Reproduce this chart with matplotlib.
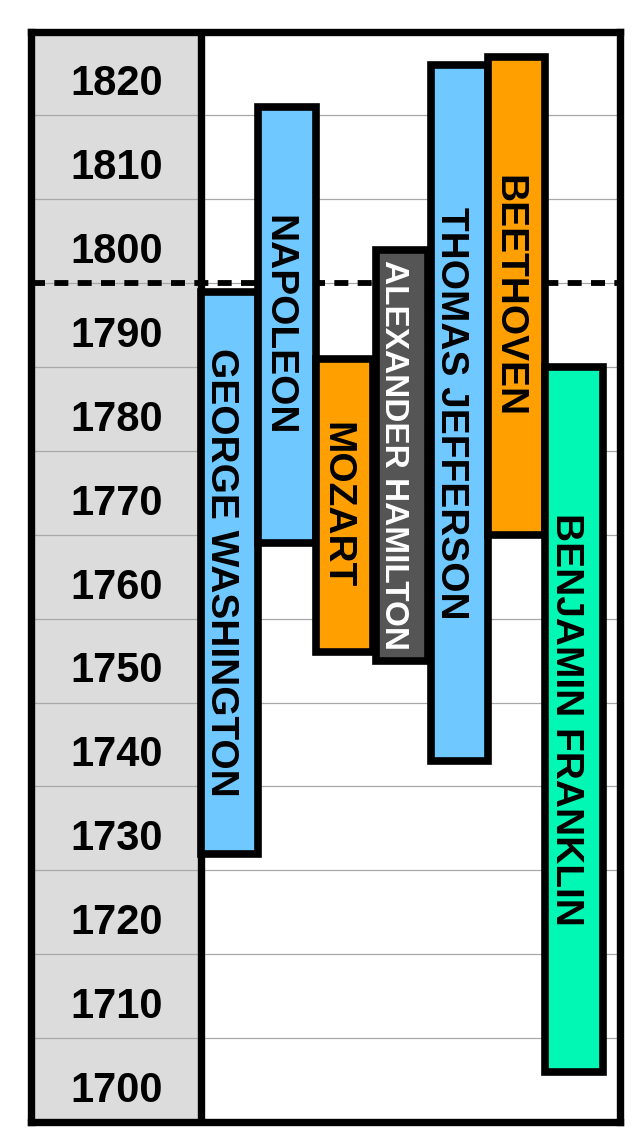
import matplotlib
matplotlib.use("Agg")
import matplotlib.pyplot as plt
from matplotlib.patches import Rectangle

plt.rcParams['font.family'] = ['Liberation Sans', 'DejaVu Sans']

# lifespans (born / died)
names = ["GEORGE WASHINGTON", "NAPOLEON", "MOZART", "ALEXANDER HAMILTON",
         "THOMAS JEFFERSON", "BEETHOVEN", "BENJAMIN FRANKLIN"]
born = [1732, 1769, 1756, 1755, 1743, 1770, 1706]
died = [1799, 1821, 1791, 1804, 1826, 1827, 1790]
fill_colors = ["#6FC8FF", "#6FC8FF", "#FFA000", "#555555",
               "#6FC8FF", "#FFA000", "#00F8B4"]
text_colors = ["black", "black", "black", "white", "black", "black", "black"]
decades = [1700, 1710, 1720, 1730, 1740, 1750, 1760, 1770, 1780, 1790, 1800, 1810, 1820]
marker_year = 1800

fig = plt.figure(figsize=(6.36, 11.42), dpi=100)
ax = fig.add_axes([0.0495, 0.0175, 0.9261, 0.9549])

x_left, x_div, x_right = -3.454, -0.5, 6.807
ax.set_xlim(x_left, x_right)
ax.set_ylim(1700, 1830)

# grey year column
ax.add_patch(Rectangle((x_left, 1700), x_div - x_left, 130,
                       facecolor="#DCDCDC", edgecolor="none", zorder=0))

# grid lines
for d in decades[1:]:
    ax.axhline(d, color="#A8A8A8", lw=0.9, zorder=1)

# dashed line
ax.axhline(marker_year, color="black", lw=4.2, dashes=(2.4, 1.6), zorder=2)

# divider between year column and chart
ax.axvline(x_div, color="black", lw=5.3, zorder=3)

# year labels
for d in decades:
    ax.text((x_left + x_div) / 2, d + 2.4, str(d), ha="center", va="baseline",
            fontsize=30, fontweight="bold", color="black", zorder=4)

# lifespan bars
for i, (n, b, dd, fc, tc) in enumerate(zip(names, born, died, fill_colors, text_colors)):
    w = 0.9 if n == "ALEXANDER HAMILTON" else 1.0
    fs = 24 if n == "ALEXANDER HAMILTON" else 28
    bars = ax.bar(i, dd - b, bottom=b, width=w, color=fc, edgecolor="black",
                  linewidth=5.5, zorder=5 + i)
    bars[0].set_joinstyle("miter")
    ax.text(i - 0.08, (b + dd) / 2, n, rotation=270, rotation_mode="anchor",
            ha="center", va="center_baseline", fontsize=fs, fontweight="bold",
            color=tc, zorder=5.5 + i)

ax.set_xticks([])
ax.set_yticks([])
for s in ax.spines.values():
    s.set_linewidth(5.3)
    s.set_color("black")
    s.set_zorder(20)

fig.savefig("out.png", dpi=100)
